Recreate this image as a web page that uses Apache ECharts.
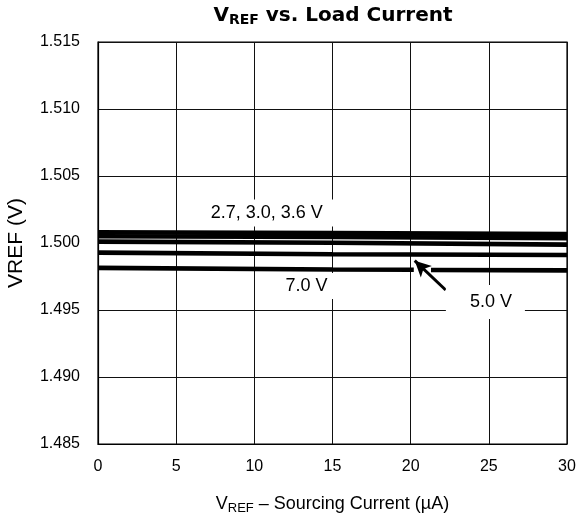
<!DOCTYPE html>
<html><head><meta charset="utf-8">
<script src="https://cdn.jsdelivr.net/npm/echarts@6/dist/echarts.min.js"></script>
<style>html,body{margin:0;padding:0;background:#fff}#c{width:578px;height:525px}</style>
</head><body><div id="c"></div>
<script>
// ---- data ----
const xTicks = [0, 5, 10, 15, 20, 25, 30];          // sourcing current, µA
const yTicks = [1.485, 1.490, 1.495, 1.500, 1.505, 1.510, 1.515];
const current = [0, 15, 30];
const v27 = [1.50080, 1.50074, 1.50066];
const v30 = [1.50050, 1.50046, 1.50036];
const v36 = [1.50010, 1.50002, 1.49988];
const v50 = [1.49928, 1.49916, 1.49911];
// 7.0 V trace is broken where the 5.0 V pointer crosses it
const current70 = [0, 15, 20.2, 20.7, 21.3, 30];
const v70 = [1.49814, 1.49802, 1.49800, null, 1.49799, 1.49796];
const supplyLabels = ['2.7, 3.0, 3.6 V', '7.0 V', '5.0 V'];

const pair = (xs, ys) => xs.map((x, i) => [x, ys[i] === null ? '-' : ys[i]]);
const FONT = 'Liberation Sans, Arial, Helvetica, sans-serif';
const TFONT = 'DejaVu Sans, Liberation Sans, sans-serif';

const chart = echarts.init(document.getElementById('c'), null, {renderer: 'canvas'});
const lineStyle = {color: '#000', width: 4.6};
const mk = (name, data, extra) => Object.assign({
  name, type: 'line', data, symbol: 'none', lineStyle, silent: true,
  animation: false, z: 3
}, extra || {});

chart.setOption({
  backgroundColor: '#fff',
  animation: false,
  grid: {left: 98, right: 11, top: 42, bottom: 81, show: true, outerBoundsMode: 'none',
         containLabel: false,
         borderColor: '#000', borderWidth: 1.2, backgroundColor: 'transparent'},
  xAxis: {
    type: 'value', min: xTicks[0], max: xTicks[xTicks.length - 1], interval: 5,
    axisLine: {show: true, lineStyle: {color: '#000', width: 1.2}},
    axisTick: {show: false},
    splitLine: {show: true, lineStyle: {color: '#111', width: 1}},
    axisLabel: {color: '#000', fontSize: 16, fontFamily: FONT, margin: 15},
    name: '{a|V}{s|REF}{a| – Sourcing Current (µA)}',
    nameLocation: 'middle', nameGap: 50,
    nameTextStyle: {
      color: '#000', fontFamily: FONT,
      rich: {
        a: {fontSize: 18, color: '#000', fontFamily: FONT, lineHeight: 20},
        s: {fontSize: 13, color: '#000', fontFamily: FONT, lineHeight: 13, padding: [8, 0, 0, 0]}
      }
    }
  },
  yAxis: {
    type: 'value', min: yTicks[0], max: yTicks[yTicks.length - 1], interval: 0.005,
    axisLine: {show: true, lineStyle: {color: '#000', width: 1.2}},
    axisTick: {show: false},
    splitLine: {show: true, lineStyle: {color: '#111', width: 1}},
    axisLabel: {color: '#000', fontSize: 16, fontFamily: FONT, margin: 18,
                formatter: v => v.toFixed(3)},
    name: 'VREF (V)', nameLocation: 'middle', nameGap: 71, nameRotate: 90,
    nameTextStyle: {color: '#000', fontSize: 21, fontFamily: FONT}
  },
  series: [
    mk('2.7 V', pair(current, v27)),
    mk('3.0 V', pair(current, v30)),
    mk('3.6 V', pair(current, v36)),
    mk('5.0 V', pair(current, v50), {
      markLine: {
        silent: true, animation: false, symbol: ['none', 'arrow'], symbolSize: [12, 16],
        lineStyle: {color: '#000', width: 3, type: 'solid'},
        label: {show: false}, emphasis: {disabled: true},
        data: [[{coord: [22.24, 1.49649]}, {coord: [20.26, 1.49868]}]]
      }
    }),
    mk('7.0 V', pair(current70, v70), {connectNulls: false})
  ]
});

// annotations (text with white knock-out boxes), anchored in data coordinates
const toPx = (p) => chart.convertToPixel({gridIndex: 0}, p);
const anchors = [[10.8, 1.50224], [13.33, 1.49680], [24.78, 1.4956]];
const pads = [[5, 12, 4, 12], [0, 10, 8, 10], [8, 13, 8, 24]];
const graphics = supplyLabels.map((t, i) => {
  const p = toPx(anchors[i]);
  return {
    type: 'text', x: p[0], y: p[1], z: 10, silent: true,
    style: {text: t, fill: '#000', font: '18px ' + FONT, align: 'center',
            verticalAlign: 'middle', backgroundColor: '#fff', padding: pads[i]}
  };
});
graphics.push({
  type: 'text', x: 333, y: 16, z: 10, silent: true,
  style: {
    text: '{a|V}{s|REF}{a| vs. Load Current}', align: 'center', verticalAlign: 'middle',
    rich: {
      a: {font: 'bold 20px ' + TFONT, fill: '#000', lineHeight: 22},
      s: {font: 'bold 14px ' + TFONT, fill: '#000', lineHeight: 14, padding: [8, 0, 0, 0]}
    }
  }
});
chart.setOption({graphic: graphics});
</script>
</body></html>
